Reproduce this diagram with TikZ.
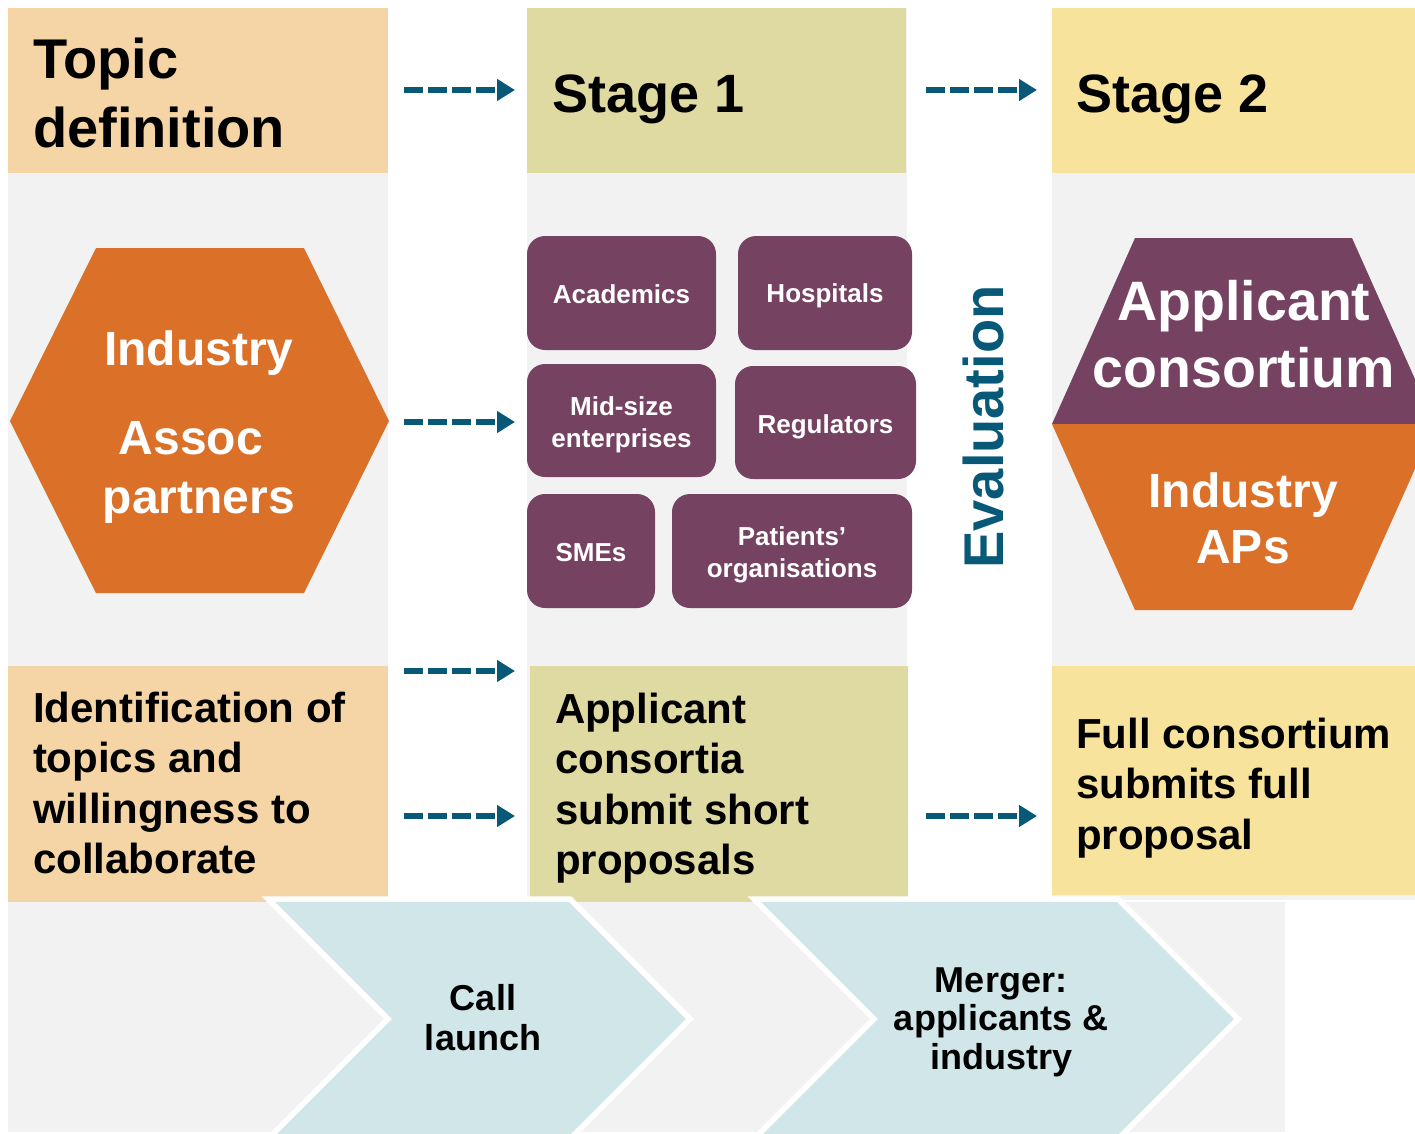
\documentclass[tikz,border=0pt]{standalone}
\usepackage{fontspec}
\setmainfont{Liberation Sans}
\usetikzlibrary{arrows.meta}
\definecolor{topicc}{HTML}{F5D5A5}
\definecolor{stageone}{HTML}{DFD9A2}
\definecolor{stagetwo}{HTML}{F8E39D}
\definecolor{greyc}{HTML}{F2F2F2}
\definecolor{purp}{HTML}{764262}
\definecolor{orng}{HTML}{DB7029}
\definecolor{arrowc}{HTML}{075977}
\definecolor{chevc}{HTML}{D1E6E9}
\tikzset{
  panel/.style={inner sep=0pt, outer sep=0pt, draw=none, anchor=north west},
  txt/.style={inner sep=0pt, outer sep=0pt},
  bigtxt/.style={txt, font=\fontsize{56}{69}\selectfont\bfseries},
  stagetxt/.style={txt, font=\fontsize{54}{60}\selectfont\bfseries, anchor=base west},
  midtxt/.style={txt, font=\fontsize{42}{50.5}\selectfont\bfseries, align=left, anchor=north west},
  pbox/.style={inner sep=0pt, outer sep=0pt, fill=purp, rounded corners=18pt},
  ptxt/.style={txt, text=white, align=center, font=\fontsize{26}{32}\selectfont\bfseries},
  flow/.style={draw=arrowc, line width=6.5pt, dash pattern=on 19pt off 5pt,
    -{Triangle[length=18pt,width=21pt]}},
  chevron/.style={fill=chevc, draw=white, line width=5.5pt, line join=miter},
  chevtxt/.style={txt, align=center, font=\fontsize{36}{40}\selectfont\bfseries},
}
\begin{document}
\begin{tikzpicture}[x=1pt,y=-1pt]
\useasboundingbox (0,0) rectangle (1415,1134);
\fill[white] (0,0) rectangle (1415,1134);
% grey columns
\fill[greyc] (8,8) rectangle (388,900);
\fill[greyc] (527,8) rectangle (907,900);
\fill[greyc] (1052,8) rectangle (1415,900);
% header boxes
\node[panel, fill=topicc, minimum width=380pt, minimum height=165pt] (topic) at (8,8) {};
\node[panel, fill=stageone, minimum width=379pt, minimum height=165pt] (stage1) at (527,8) {};
\node[panel, fill=stagetwo, minimum width=363pt, minimum height=165pt] (stage2) at (1052,8) {};
% bottom boxes
\node[panel, fill=topicc, minimum width=380pt, minimum height=236pt] (ident) at (8,666) {};
\node[panel, fill=stageone, minimum width=378pt, minimum height=236pt] (submit) at (530,666) {};
\node[panel, fill=stagetwo, minimum width=363pt, minimum height=229pt] (full) at (1052,666) {};
% bottom band
\fill[greyc] (8,902) rectangle (1285,1132);
% chevrons
\path[chevron] (268,899) -- (570,899) -- (690,1019) -- (570,1139) -- (268,1139) -- (388,1019) -- cycle;
\path[chevron] (754,899) -- (1118,899) -- (1238,1019) -- (1118,1139) -- (754,1139) -- (874,1019) -- cycle;
% hexagons
\fill[orng] (96,248) -- (304,248) -- (389,421) -- (304,593) -- (96,593) -- (10,421) -- cycle;
\fill[purp] (1135,238) -- (1352,238) -- (1435,424) -- (1052,424) -- cycle;
\fill[orng] (1052,424) -- (1435,424) -- (1352,610) -- (1135,610) -- cycle;
% texts in header boxes
\node[bigtxt, anchor=north west, align=left] (topict) at (33,38) {Topic\\definition};
\node[stagetxt] (stage1t) at (552,113) {Stage 1};
\node[stagetxt] (stage2t) at (1076,113) {Stage 2};
% texts in bottom boxes
\node[midtxt] (identt) at (33,692) {Identification of\\topics and\\willingness to\\collaborate};
\node[midtxt] (submitt) at (555,693) {Applicant\\consortia\\submit short\\proposals};
\node[midtxt] (fullt) at (1076,718) {Full consortium\\submits full\\proposal};
% hexagon texts
\node[txt, text=white, align=center, anchor=north, font=\fontsize{48}{59}\selectfont\bfseries] (hexlt) at (199,330.5)
  {Industry\\[30pt]Assoc\hspace*{16pt}\mbox{}\\partners};
\node[txt, text=white, align=center, anchor=north, font=\fontsize{55.5}{67}\selectfont\bfseries] (apct) at (1244,280)
  {Applicant\\consortium};
\node[txt, text=white, align=center, anchor=north, font=\fontsize{48}{56}\selectfont\bfseries] (iapt) at (1243,473)
  {Industry\\APs};
% purple boxes
\node[pbox, minimum width=189pt, minimum height=114pt] (acad) at (621.5,293) {};
\node[pbox, minimum width=174pt, minimum height=114pt] (hosp) at (825,293) {};
\node[pbox, minimum width=189pt, minimum height=113pt] (mids) at (621.5,420.5) {};
\node[pbox, minimum width=181pt, minimum height=113pt] (regs) at (825.5,422.5) {};
\node[pbox, minimum width=128pt, minimum height=114pt] (smes) at (591,551) {};
\node[pbox, minimum width=240pt, minimum height=114pt] (pats) at (792,551) {};
\node[ptxt, yshift=-1pt] (acadt) at (acad.center) {Academics};
\node[ptxt, yshift=-3pt] (hospt) at (hosp.center) {Hospitals};
\node[ptxt, yshift=-4pt] (midst) at (mids.center) {Mid-size\\enterprises};
\node[ptxt, yshift=-4pt] (regst) at (regs.center) {Regulators};
\node[ptxt, yshift=-2pt] (smest) at (smes.center) {SMEs};
\node[ptxt, yshift=-4pt] (patst) at (pats.center) {Patients’\\organisations};
% evaluation
\node[txt, rotate=90, anchor=base, text=arrowc, font=\fontsize{56}{60}\selectfont\bfseries] (evaluation) at (1003,427) {Evaluation};
% chevron texts
\node[chevtxt] (callt) at (483,1018) {Call\\launch};
\node[chevtxt, font=\fontsize{36}{38.5}\selectfont\bfseries] (mergert) at (1001,1022) {Merger:\\applicants \&\\industry};
% arrows
\coordinate (a1s) at (404,90);  \coordinate (a1e) at (515,90);
\coordinate (a2s) at (926,90);  \coordinate (a2e) at (1037,90);
\coordinate (a3s) at (404,422); \coordinate (a3e) at (515,422);
\coordinate (a4s) at (404,671); \coordinate (a4e) at (515,671);
\coordinate (a5s) at (404,816); \coordinate (a5e) at (515,816);
\coordinate (a6s) at (926,816); \coordinate (a6e) at (1037,816);
\draw[flow] (a1s) -- (a1e);
\draw[flow] (a2s) -- (a2e);
\draw[flow] (a3s) -- (a3e);
\draw[flow] (a4s) -- (a4e);
\draw[flow] (a5s) -- (a5e);
\draw[flow] (a6s) -- (a6e);
\end{tikzpicture}
\end{document}
